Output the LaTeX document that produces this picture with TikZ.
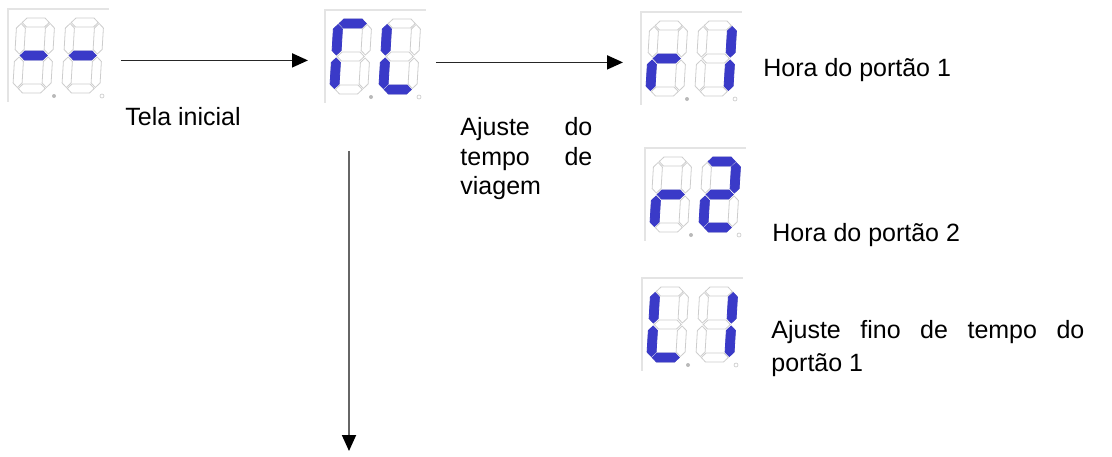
\documentclass[tikz,border=0pt]{standalone}
\usepackage{fontspec}
\setmainfont{Liberation Sans}
\usetikzlibrary{arrows.meta}

\definecolor{segblue}{RGB}{58,58,200}
\definecolor{seggray}{RGB}{205,205,205}
\definecolor{framegray}{RGB}{228,228,228}

% one segment, horizontal or vertical
\newcommand{\hseg}[2]{\filldraw[#1] (5.5,#2) -- ++(4.5,-4.5) -- ++(18,0) -- ++(4.5,4.5) -- ++(-4.5,4.5) -- ++(-18,0) -- cycle;}
\newcommand{\vseg}[3]{\filldraw[#1] (#2,#3) -- ++(4.5,4.5) -- ++(0,21.5) -- ++(-4.5,4.5) -- ++(-4.5,-4.5) -- ++(0,-21.5) -- cycle;}
\newcommand{\segA}[1]{\hseg{#1}{4.5}}
\newcommand{\segG}[1]{\hseg{#1}{37.5}}
\newcommand{\segD}[1]{\hseg{#1}{70.5}}
\newcommand{\segF}[1]{\vseg{#1}{4.5}{5.5}}
\newcommand{\segE}[1]{\vseg{#1}{4.5}{39}}
\newcommand{\segB}[1]{\vseg{#1}{33.5}{5.5}}
\newcommand{\segC}[1]{\vseg{#1}{33.5}{39}}

\newcommand{\sevdigit}[3]{%
  \begin{scope}[shift={(#1,#2)}, xslant=0.06]
    \foreach \s in {A,B,C,D,E,F,G} {\csname seg\s\endcsname{seg_off}}
    \foreach \s in {#3} {\csname seg\s\endcsname{seg_on}}
  \end{scope}}

\newcommand{\dispdraw}[3]{%
  \draw[frame_line] (#1.south west) |- (#1.north east);
  \begin{scope}[shift={(#1.north west)}]
    \sevdigit{9}{9}{#2}
    \sevdigit{58}{9}{#3}
    \fill[dot_on] (46,87) circle (1pt);
    \draw[dot_off] (94,87) circle (1pt);
  \end{scope}}

\begin{document}
\begin{tikzpicture}[
  x=0.5pt, y=-0.5pt,
  font=\fontsize{12.5}{15}\selectfont,
  seg_off/.style={draw=seggray, fill=white, line width=0.4pt},
  seg_on/.style={draw=segblue, fill=segblue, line width=0.4pt},
  dot_on/.style={fill=gray!55},
  dot_off/.style={draw=gray!45, line width=0.3pt},
  frame_line/.style={draw=framegray, line width=0.6pt},
  disp_box/.style={rectangle, anchor=north west, minimum width=50pt, minimum height=46pt, inner sep=0pt},
  txt/.style={anchor=base west, inner sep=0pt},
  seta/.style={-{Triangle[length=8pt,width=7pt,color=black]}, line width=0.9pt, black!85},
]
\useasboundingbox (0,0) rectangle (1112,456);

\node (tela) [disp_box] at (8,9) {};
\node (menu) [disp_box] at (325,10) {};
\node (porta1) [disp_box] at (641,12) {};
\node (porta2) [disp_box] at (645,148) {};
\node (fino) [disp_box] at (642,278) {};

\dispdraw{tela}{G}{G}
\dispdraw{menu}{A,F,E}{F,E,D}
\dispdraw{porta1}{G,E}{B,C}
\dispdraw{porta2}{G,E}{A,B,G,E,D}
\dispdraw{fino}{F,E,D}{B,C}

\draw (125,125) node (tela_txt) [txt] {Tela inicial};
\draw (460,135) node (viagem1) [txt] {\makebox[66pt][s]{Ajuste do}};
\draw (460,165) node (viagem2) [txt] {\makebox[66pt][s]{tempo de}};
\draw (460,194) node (viagem3) [txt] {viagem};
\draw (763,76) node (porta1_txt) [txt] {Hora do portão 1};
\draw (772,241) node (porta2_txt) [txt] {Hora do portão 2};
\draw (771,338) node (fino1) [txt] {\makebox[156.5pt][s]{Ajuste fino de tempo do}};
\draw (771,371) node (fino2) [txt] {portão 1};

\coordinate (fim) at (349,451);
\draw[seta, shorten <=6pt, shorten >=8.5pt] ([yshift=-2.5pt]tela.east) -- ([yshift=-2.5pt]tela.east -| menu.west);
\draw[seta, shorten <=5pt, shorten >=9pt] ([yshift=-3pt]menu.east) -- ([yshift=-3pt]menu.east -| porta1.west);
\draw[seta, shorten <=24pt, black!60] (menu.south -| fim) -- (fim);
\end{tikzpicture}
\end{document}
